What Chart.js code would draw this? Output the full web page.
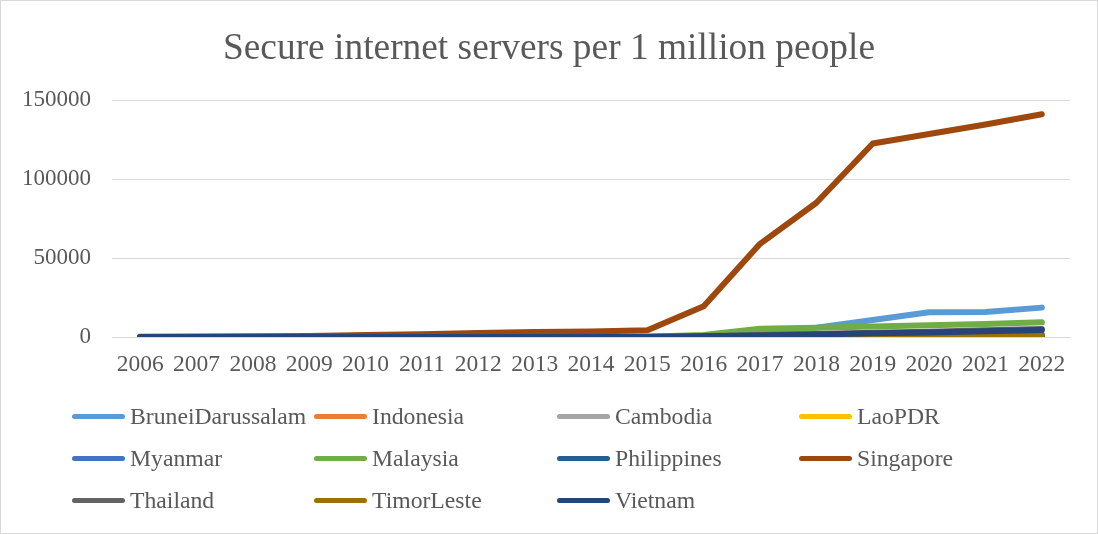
<!DOCTYPE html>
<html>
<head>
<meta charset="utf-8">
<script src="https://cdn.jsdelivr.net/npm/chart.js@4.4.1/dist/chart.umd.min.js"></script>
<style>
html,body{margin:0;padding:0;background:#fff;}
#wrap{position:relative;width:1096px;height:532px;border:1px solid #d9d9d9;background:#fff;}
canvas{display:block;}
#legend{position:absolute;left:0;top:0;width:100%;height:100%;pointer-events:none;font-family:"Liberation Serif","Times New Roman",serif;font-size:23.7px;color:#595959;}
.item{position:absolute;display:flex;align-items:center;white-space:nowrap;height:30px;}
.swatch{width:53px;height:5px;border-radius:3px;margin-right:5px;flex:none;}
</style>
</head>
<body>
<div id="wrap">
  <canvas id="c" width="1096" height="532"></canvas>
  <div id="legend"></div>
</div>
<script>
const TITLE = "Secure internet servers per 1 million people";
const years = ["2006","2007","2008","2009","2010","2011","2012","2013","2014","2015","2016","2017","2018","2019","2020","2021","2022"];
const yTicks = [0, 50000, 100000, 150000];

const bruneiDarussalam = [20, 30, 40, 60, 80, 100, 150, 200, 250, 300, 800, 3500, 5800, 10800, 15700, 15800, 18600];
const indonesia        = [2, 3, 4, 5, 6, 8, 10, 15, 20, 30, 60, 120, 180, 250, 320, 380, 450];
const cambodia         = [1, 1, 2, 3, 4, 5, 8, 10, 15, 20, 40, 80, 120, 160, 220, 280, 330];
const laoPDR           = [0, 1, 1, 1, 2, 2, 3, 4, 5, 8, 15, 30, 50, 70, 90, 110, 130];
const myanmar          = [0, 0, 0, 0, 0, 0, 1, 1, 2, 3, 5, 10, 15, 20, 30, 40, 50];
const malaysia         = [15, 20, 30, 40, 60, 80, 100, 130, 170, 220, 1200, 5300, 5900, 6600, 7400, 8300, 9300];
const philippines      = [3, 4, 5, 6, 8, 10, 15, 20, 30, 45, 150, 400, 600, 800, 1000, 1200, 1400];
const singapore        = [150, 250, 400, 600, 1200, 1800, 2500, 3100, 3500, 4300, 19500, 59000, 85000, 122500, 128500, 134500, 141000];
const thailand         = [5, 7, 9, 12, 16, 20, 28, 36, 48, 65, 500, 1200, 1900, 2700, 3400, 4200, 5000];
const timorLeste       = [0, 0, 0, 0, 0, 0, 0, 1, 2, 3, 20, 60, 120, 200, 300, 450, 600];
const vietnam          = [1, 2, 3, 4, 5, 7, 10, 14, 20, 40, 400, 1000, 1600, 2300, 2900, 3600, 4400];

const seriesNames  = ["BruneiDarussalam","Indonesia","Cambodia","LaoPDR","Myanmar","Malaysia","Philippines","Singapore","Thailand","TimorLeste","Vietnam"];
const seriesValues = [bruneiDarussalam, indonesia, cambodia, laoPDR, myanmar, malaysia, philippines, singapore, thailand, timorLeste, vietnam];
const seriesColors = ["#5B9BD5","#ED7D31","#A5A5A5","#FFC000","#4472C4","#70AD47","#255E91","#9E480E","#636363","#997300","#264478"];

const textColor = "#595959";
const fontFam = '"Liberation Serif", "Times New Roman", serif';

const datasets = seriesNames.map((n, i) => ({
  label: n,
  data: seriesValues[i],
  borderColor: seriesColors[i],
  backgroundColor: seriesColors[i],
  borderWidth: 6,
  borderCapStyle: "round",
  borderJoinStyle: "round",
  pointRadius: 0,
  pointHoverRadius: 0,
  tension: 0,
  fill: false,
  yAxisID: "y",
  order: seriesNames.length - i
}));

new Chart(document.getElementById("c"), {
  type: "line",
  data: { labels: years, datasets: datasets },
  options: {
    responsive: false,
    animation: false,
    devicePixelRatio: 1,
    layout: { padding: { left: 0, right: 0, top: 0, bottom: 146 } },
    plugins: {
      legend: { display: false },
      tooltip: { enabled: false },
      title: {
        display: true,
        text: TITLE,
        color: textColor,
        font: { family: fontFam, size: 37.4, weight: "normal" },
        padding: { top: 26, bottom: 28.2 }
      }
    },
    scales: {
      x: {
        offset: true,
        grid: { display: false, drawTicks: false },
        border: { display: true, color: "#d9d9d9", width: 1 },
        ticks: { color: textColor, font: { family: fontFam, size: 23.5 }, padding: 14, maxRotation: 0, autoSkip: false },
        afterFit(s) { s.height = 50; }
      },
      y: {
        position: "left",
        min: yTicks[0],
        max: yTicks[yTicks.length - 1],
        afterBuildTicks(s) { s.ticks = yTicks.map(v => ({ value: v })); },
        ticks: { color: textColor, font: { family: fontFam, size: 23 }, padding: 21, callback: v => String(v) },
        grid: { color: "#d9d9d9", drawTicks: false, lineWidth: 1 },
        border: { display: false },
        afterFit(s) { s.width = 111; }
      },
      yRight: {
        position: "right",
        min: 0,
        max: 1,
        ticks: { display: false },
        grid: { display: false, drawTicks: false },
        border: { display: false },
        afterFit(s) { s.width = 27; }
      }
    }
  }
});

// HTML legend laid out in a 4-column grid like the reference
const legend = document.getElementById("legend");
const colLeft = [71, 313, 556, 798];
const rowCenter = [415, 457, 499];
seriesNames.forEach((n, i) => {
  const el = document.createElement("div");
  el.className = "item";
  el.style.left = colLeft[i % 4] + "px";
  el.style.top = (rowCenter[Math.floor(i / 4)] - 15) + "px";
  const sw = document.createElement("span");
  sw.className = "swatch";
  sw.style.background = seriesColors[i];
  const tx = document.createElement("span");
  tx.textContent = n;
  el.appendChild(sw);
  el.appendChild(tx);
  legend.appendChild(el);
});
</script>
</body>
</html>
